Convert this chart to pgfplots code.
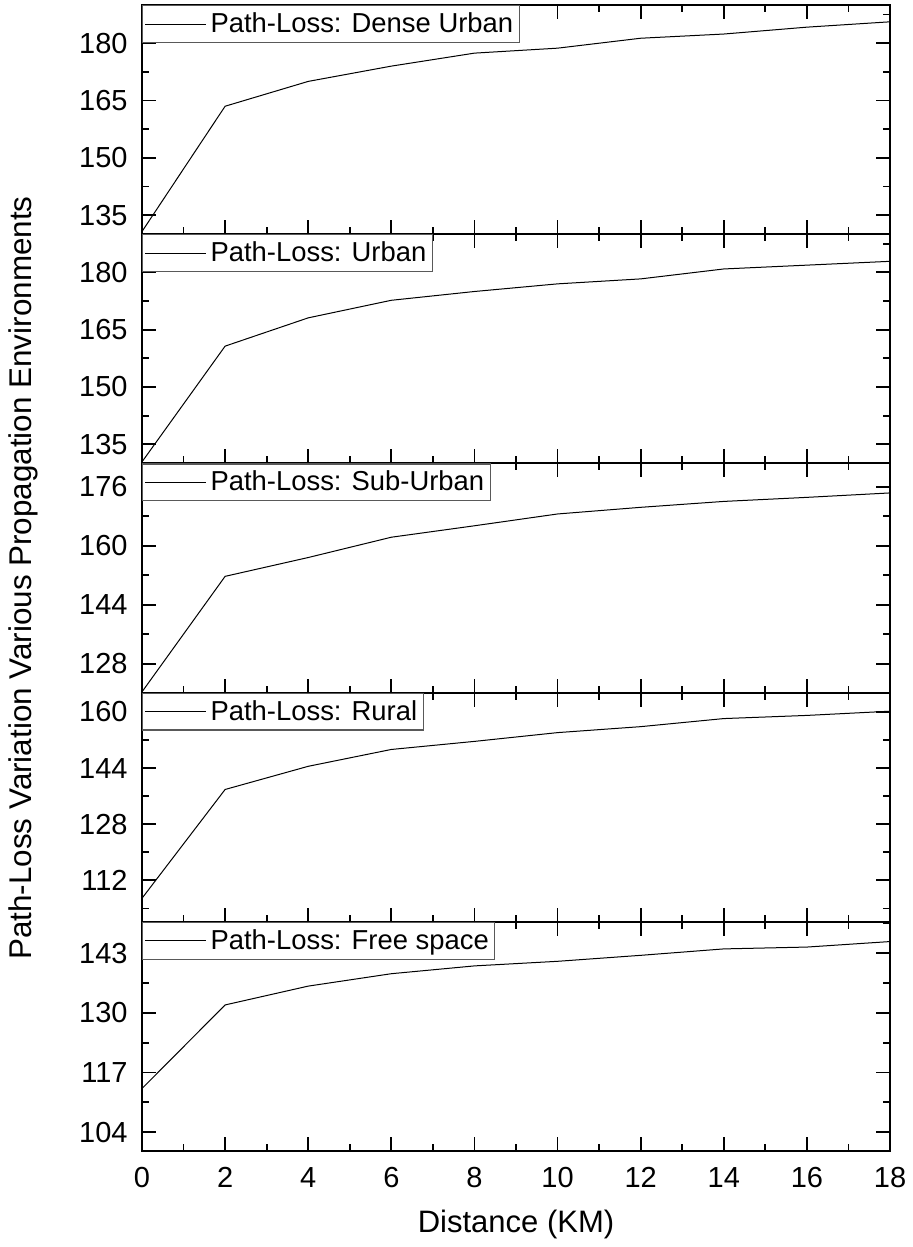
\documentclass[border=0pt]{standalone}
\usepackage{fontspec}
\setmainfont{Liberation Sans}
\usepackage{pgfplots}
\pgfplotsset{compat=1.18}
\usepgfplotslibrary{groupplots}

\pgfplotsset{
  panel/.style={
    width=374pt, height=114.6pt, scale only axis,
    xmin=0, xmax=18,
    xtick={0,2,...,18}, minor xtick={1,3,...,17},
    tick align=inside, tick pos=both,
    major tick length=7pt, minor tick length=3.5pt,
    tick style={black, line width=0.9pt},
    axis line style={black, line width=1pt},
    ticklabel style={font=\fontsize{14.5}{16}\selectfont},
    yticklabel style={xshift=-3.7pt},
    xticklabel style={yshift=-4.7pt},
    /pgf/number format/assume math mode=true,
    legend style={at={(0,1)}, anchor=north west, draw=black!65, line width=0.6pt,
      font=\fontsize{13.7}{15}\selectfont, inner xsep=1pt, inner ysep=1.5pt},
    legend image code/.code={\draw[#1] (0pt,0pt) -- (30.5pt,0pt);},
    legend cell align=left,
  },
  curve/.style={black, line width=0.5pt},
}

\begin{document}
\begin{tikzpicture}
\begin{groupplot}[
  group style={group size=1 by 5, vertical sep=0pt, xticklabels at=edge bottom},
  panel,
]
% Dense Urban
\nextgroupplot[ymin=130, ymax=190, ytick={135,150,165,180}, minor ytick={142.5,157.5,172.5,187.5}]
\addplot[curve] coordinates {(0,130.7) (2,163.5) (4,170.0) (6,174.0) (8,177.4) (10,178.7) (12,181.3) (14,182.4) (16,184.2) (18,185.6)};
\addlegendentry{Path-Loss: Dense Urban}
% Urban
\nextgroupplot[ymin=130, ymax=190, ytick={135,150,165,180}, minor ytick={142.5,157.5,172.5,187.5}]
\addplot[curve] coordinates {(0,130.4) (2,160.7) (4,168.1) (6,172.7) (8,175.0) (10,177.0) (12,178.3) (14,180.9) (16,181.9) (18,182.9)};
\addlegendentry{Path-Loss: Urban}
% Sub-Urban
\nextgroupplot[ymin=120.2, ymax=182.3, ytick={128,144,160,176}, minor ytick={136,152,168},
  ylabel={Path-Loss Variation Various Propagation Environments},
  ylabel style={at={(axis description cs:-0.158,0.5)}, anchor=center, font=\fontsize{15.7}{18}\selectfont}]
\addplot[curve] coordinates {(0,120.4) (2,151.7) (4,156.8) (6,162.3) (8,165.4) (10,168.6) (12,170.4) (14,172.0) (16,173.1) (18,174.3)};
\addlegendentry{Path-Loss: Sub-Urban}
% Rural
\nextgroupplot[ymin=100.2, ymax=165.5, ytick={112,128,144,160}, minor ytick={104,120,136,152}]
\addplot[curve] coordinates {(0,106.9) (2,137.9) (4,144.5) (6,149.3) (8,151.6) (10,154.1) (12,155.8) (14,158.1) (16,159.0) (18,160.2)};
\addlegendentry{Path-Loss: Rural}
% Free space
\nextgroupplot[ymin=99.9, ymax=149.8, ytick={104,117,130,143}, minor ytick={110.5,123.5,136.5,149.5},
  xlabel={Distance (KM)},
  xlabel style={at={(axis description cs:0.5,-0.32)}, anchor=center, font=\fontsize{15.5}{18}\selectfont}]
\addplot[curve] coordinates {(0,113.5) (2,131.7) (4,135.8) (6,138.5) (8,140.2) (10,141.2) (12,142.5) (14,143.9) (16,144.3) (18,145.5)};
\addlegendentry{Path-Loss: Free space}
\end{groupplot}
\path ([shift={(-71pt,-48pt)}]group c1r5.south west) rectangle ([shift={(9.5pt,2.5pt)}]group c1r1.north east);
\end{tikzpicture}
\end{document}
